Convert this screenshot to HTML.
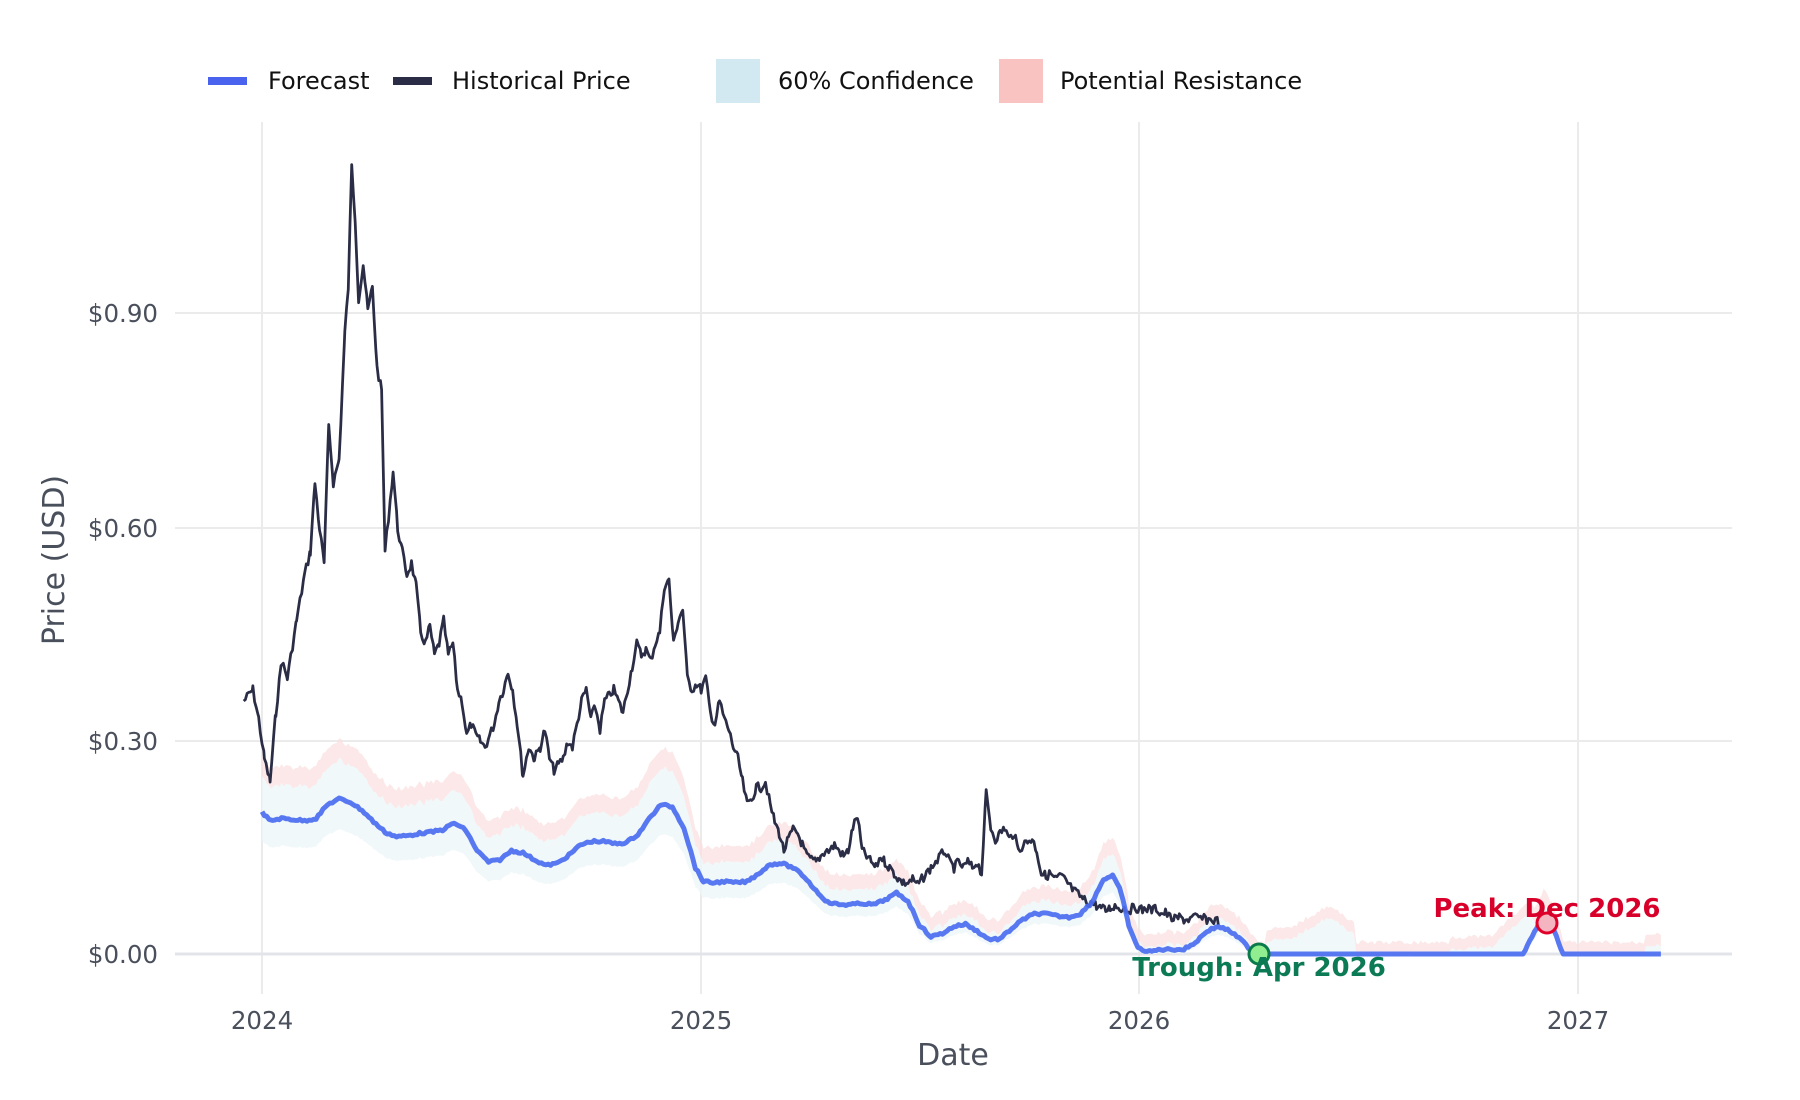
<!DOCTYPE html>
<html><head><meta charset="utf-8"><style>
html,body{margin:0;padding:0;background:#fff}
svg{display:block;font-family:"DejaVu Sans","Liberation Sans",sans-serif}
</style></head><body>
<svg id="s" width="1800" height="1100" viewBox="0 0 1800 1100" xmlns="http://www.w3.org/2000/svg">
<rect width="1800" height="1100" fill="#fff"/>
<g stroke="#ebebeb" stroke-width="2">
<line x1="175" x2="1732" y1="741" y2="741"/><line x1="175" x2="1732" y1="528" y2="528"/><line x1="175" x2="1732" y1="313" y2="313"/>
<line x1="262" x2="262" y1="122" y2="994"/><line x1="701" x2="701" y1="122" y2="994"/><line x1="1139" x2="1139" y1="122" y2="994"/><line x1="1578" x2="1578" y1="122" y2="994"/>
</g>
<line x1="175" x2="1732" y1="954" y2="954" stroke="#e2e4ea" stroke-width="3"/>
<g id="data" transform="scale(1.1494,1.1494)"></g>
<g font-size="24.5" fill="#4a4f5c" text-anchor="end">
<text x="158" y="963">$0.00</text><text x="158" y="750">$0.30</text><text x="158" y="537">$0.60</text><text x="158" y="322">$0.90</text>
</g>
<g font-size="24.5" fill="#4a4f5c" text-anchor="middle">
<text x="262" y="1029">2024</text><text x="701" y="1029">2025</text><text x="1139" y="1029">2026</text><text x="1578" y="1029">2027</text>
</g>
<text x="953" y="1065" font-size="30" fill="#4a4f5c" text-anchor="middle">Date</text>
<text transform="translate(64,560) rotate(-90)" font-size="30" fill="#4a4f5c" text-anchor="middle">Price (USD)</text>
<rect x="208" y="77" width="39" height="8" fill="#4a63ee"/>
<text x="268" y="89" font-size="24" fill="#111">Forecast</text>
<rect x="393" y="77" width="39" height="8" fill="#2a2d45"/>
<text x="452" y="89" font-size="24" fill="#111">Historical Price</text>
<rect x="716" y="59" width="44" height="44" fill="#d3e9f1"/>
<text x="778" y="89" font-size="24" fill="#111">60% Confidence</text>
<rect x="999" y="59" width="44" height="44" fill="#f8c3c1"/>
<text x="1060" y="89" font-size="24" fill="#111">Potential Resistance</text>
<circle cx="1259" cy="954" r="10" fill="#90ee90" stroke="#0a7a4a" stroke-width="3"/>
<text x="1259" y="976" font-size="26" font-weight="bold" fill="#0b7a55" text-anchor="middle">Trough: Apr 2026</text>
<circle cx="1547" cy="923" r="10" fill="#f5b5c0" stroke="#e0002a" stroke-width="3"/>
<text x="1547" y="917" font-size="26" font-weight="bold" fill="#d8002a" text-anchor="middle">Peak: Dec 2026</text>
</svg>
<script>
var seed=7;function r(){seed=(seed*9301+49297)%233280;return seed/233280;}
function interp(p,step){var o=[];for(var i=0;i<p.length-1;i++){var a=p[i],b=p[i+1];for(var x=a[0];x<b[0];x+=step){var t=(x-a[0])/(b[0]-a[0]);o.push([x,a[1]+(b[1]-a[1])*t]);}}o.push(p[p.length-1]);return o;}
var H=[[212,610],[220,600],[225,625],[230,660],[235,680],[240,620],[245,575],[250,590],[258,540],[265,500],[270,480],[274,420],[278,460],[282,490],[286,370],[290,420],[295,400],[300,290],[303,250],[306,145],[309,190],[312,260],[316,230],[320,270],[324,250],[328,320],[332,340],[335,480],[338,450],[342,410],[346,460],[350,480],[354,500],[358,490],[362,510],[366,550],[370,560],[374,545],[378,570],[382,560],[386,540],[390,570],[394,560],[398,600],[402,610],[406,640],[410,630],[414,640],[418,645],[422,650],[426,640],[430,630],[434,610],[438,600],[442,585],[446,600],[450,630],[455,675],[460,650],[465,660],[470,650],[474,635],[478,660],[482,670],[486,665],[490,660],[494,645],[498,650],[502,630],[506,610],[510,600],[514,625],[518,615],[522,635],[526,610],[530,605],[534,600],[538,610],[542,620],[546,600],[550,580],[554,560],[558,570],[562,565],[566,575],[570,560],[574,550],[578,510],[582,505],[586,560],[590,540],[594,530],[598,590],[602,600],[606,595],[610,600],[614,590],[618,620],[622,630],[626,610],[630,625],[634,635],[638,650],[642,660],[646,680],[650,700],[654,695],[658,685],[662,685],[666,680],[670,700],[674,715],[678,725],[682,740],[686,730],[690,722],[694,725],[698,735],[702,745],[706,748],[710,750],[714,745],[718,740],[722,740],[726,735],[730,740],[734,745],[738,740],[742,720],[746,710],[750,740],[754,745],[758,750],[762,755],[766,745],[770,750],[774,755],[778,760],[782,765],[786,768],[790,768],[794,765],[798,770],[802,765],[806,760],[810,755],[814,750],[818,745],[822,740],[826,750],[830,755],[834,750],[838,755],[842,750],[846,755],[850,750],[854,760],[858,690],[862,720],[866,730],[870,725],[874,720],[878,730],[882,725],[886,740],[890,735],[894,732],[898,730],[902,740],[906,760],[910,762],[914,760],[918,765],[922,762],[926,765],[930,770],[934,775],[938,778],[942,782],[946,785],[950,785],[954,788],[958,790],[962,792],[966,790],[970,788],[974,790],[978,790],[982,792],[986,790],[990,790],[994,792],[998,790],[1002,792],[1006,790],[1010,795],[1014,794],[1018,798],[1022,800],[1026,798],[1030,800],[1034,800],[1040,798],[1050,800],[1060,801]];
var F=[[228,707],[235,714],[245,712],[255,713],[265,714],[275,712],[285,700],[295,695],[305,698],[315,705],[325,715],[335,724],[345,728],[355,727],[365,725],[375,724],[385,722],[395,716],[405,722],[415,740],[425,750],[435,748],[445,740],[455,742],[465,748],[475,753],[485,751],[495,744],[505,735],[515,732],[525,732],[535,734],[545,733],[555,726],[565,712],[575,700],[585,702],[595,720],[605,755],[612,767],[620,768],[630,767],[640,768],[650,767],[660,760],[670,752],[680,751],[690,755],[700,763],[710,775],[720,785],[730,787],[740,787],[750,786],[760,787],[770,783],[780,777],[790,784],[800,805],[810,815],[820,812],[830,806],[840,804],[850,810],[860,817],[870,817],[880,808],[890,800],[900,795],[910,795],[920,797],[930,798],[940,795],[950,785],[960,765],[968,762],[975,775],[982,805],[990,825],[1000,828],[1010,826],[1020,826],[1030,826],[1040,820],[1050,810],[1060,806],[1070,810],[1080,818],[1090,828],[1100,830],[1325,830],[1335,810],[1343,797],[1350,805],[1360,830],[1445,830]];
var hp=interp(H,1.5).map(function(p){return [p[0],p[1]+(r()-0.5)*8];});
var fp=interp(F,2).map(function(p){return [p[0],p[1]>=829.5?830:p[1]+(r()-0.5)*2];});
function bump(x){var b=0;if(x>1100&&x<1180)b=Math.max(0,20-Math.abs(x-1155)*0.6)+12;if(x>1260&&x<1360)b=Math.max(0,30-Math.abs(x-1330)*0.9)+5;if(x>1430)b=8;return b;}
var cu=[],cl=[],ru=[],rl=[];
fp.forEach(function(p){var x=p[0],y=p[1],b=bump(x),n=(r()-0.5)*4;
var w=(830-y)*0.4+(y>=829?0:6);
var top=Math.min(y-w*0.55,830-b);
cu.push([x,top+n]);cl.push([x,Math.min(830,y+w*0.45)]);
ru.push([x,top-10-w*0.12+n]);rl.push([x,top+n]);});
function pts(a){return a.map(function(p){return p[0].toFixed(1)+","+p[1].toFixed(1);}).join(" ");}
var g=document.getElementById("data");
var NS="http://www.w3.org/2000/svg";
function add(tag,attrs){var e=document.createElementNS(NS,tag);for(var k in attrs)e.setAttribute(k,attrs[k]);g.appendChild(e);}
add("polygon",{points:pts(cu)+" "+pts(cl.slice().reverse()),fill:"#edf6f9",opacity:"0.8"});
add("polygon",{points:pts(ru)+" "+pts(rl.slice().reverse()),fill:"#fbdede",opacity:"0.7"});
add("polyline",{points:pts(hp),fill:"none",stroke:"#2a2d45","stroke-width":"2.4","stroke-linejoin":"round"});
add("polyline",{points:pts(fp),fill:"none",stroke:"#4a6cf0","stroke-width":"4.3","stroke-opacity":"0.92","stroke-linejoin":"round"});
</script>
</body></html>
